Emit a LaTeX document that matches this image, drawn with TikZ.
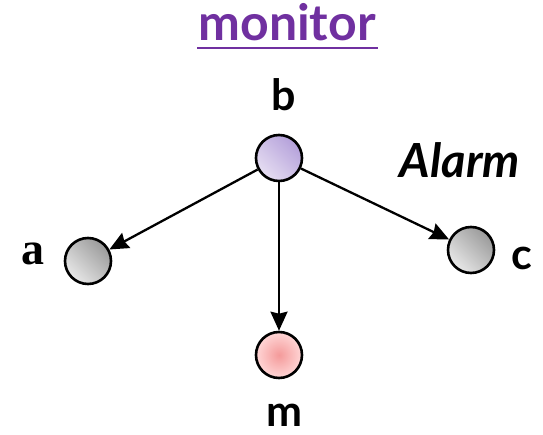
\documentclass[tikz,border=0pt]{standalone}
\usepackage{fontspec}
\setmainfont{Lato}
\newfontfamily\serifbold{Liberation Serif}
\usetikzlibrary{arrows.meta}
\definecolor{titlepurple}{HTML}{7030A0}
\definecolor{lilacdark}{HTML}{B4A0DA}
\definecolor{lilaclight}{HTML}{E6DEF2}
\definecolor{pinkcore}{HTML}{F49A9A}
\definecolor{pinkrim}{HTML}{FFD6D6}
\definecolor{greydark}{HTML}{9A9A9A}
\definecolor{greylight}{HTML}{E8E8E8}
\tikzset{
  state/.style={circle, draw=black, line width=2.6pt, minimum size=46pt, inner sep=0pt},
  statelilac/.style={state, left color=lilacdark, right color=lilaclight, shading angle=-45},
  stategray/.style={state, left color=greydark, right color=greylight, shading angle=-45},
  statepink/.style={state, shading=radial, inner color=pinkcore, outer color=pinkrim},
  link/.style={-{Stealth[length=19pt,width=17pt,inset=2pt]}, line width=2.3pt},
  lbl/.style={font=\fontsize{43}{45}\selectfont\bfseries, inner sep=0pt, anchor=base}
}
\begin{document}
\begin{tikzpicture}[x=1pt, y=-1pt]
  \useasboundingbox (0,0) rectangle (543,435);
  % title
  \node[inner sep=0pt, anchor=base, text=titlepurple, font=\fontsize{50}{54}\selectfont\bfseries] (title) at (287,41) {monitor};
  \draw[titlepurple, line width=2.4pt] (197,48) -- (378,48);
  % states
  \node[statelilac] (b) at (279,158) {};
  \node[stategray] (a) at (88,261) {};
  \node[stategray] (c) at (471,250) {};
  \node[statepink] (m) at (279,355) {};
  % labels
  \node[lbl] (lb) at (284,111) {b};
  \node[lbl, font=\fontsize{46}{48}\serifbold\bfseries] (la) at (33,265) {a};
  \node[lbl] (lc) at (522,270) {c};
  \node[lbl] (lm) at (285,426) {m};
  \node[inner sep=0pt, anchor=base, font=\fontsize{47}{50}\selectfont\bfseries\itshape] (alarm) at (460,178) {Alarm};
  % transitions
  \draw[link] (b) -- (a);
  \draw[link] (b) -- (c);
  \draw[link] (b) -- (m);
\end{tikzpicture}
\end{document}
